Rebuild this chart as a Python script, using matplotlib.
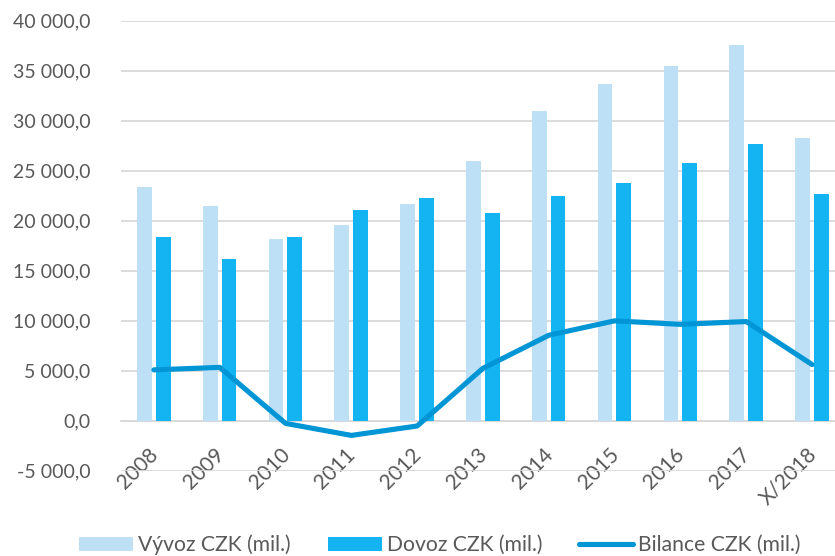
import numpy as np
import matplotlib.pyplot as plt
import matplotlib.transforms as mtransforms
from matplotlib.ticker import FuncFormatter

plt.rcParams['font.family'] = ['Lato', 'DejaVu Sans']

years = ['2008', '2009', '2010', '2011', '2012', '2013', '2014', '2015', '2016', '2017', 'X/2018']
vyvoz = [23400, 21450, 18120, 19550, 21700, 25960, 30960, 33700, 35430, 37570, 28230]
dovoz = [18320, 16120, 18390, 21020, 22230, 20720, 22420, 23720, 25800, 27660, 22620]
bilance = [5080, 5330, -270, -1470, -530, 5240, 8540, 9980, 9630, 9910, 5610]

c_light = '#BDE0F6'
c_dark = '#14B4F2'
c_line = '#0096D6'
c_text = '#595959'
c_grid = '#D9D9D9'

def fmt(v, pos):
    s = '{:,.1f}'.format(v).replace(',', ' ').replace('.', ',')
    return s

fig = plt.figure(figsize=(8.35, 5.56), dpi=100)
ax = fig.add_axes([121 / 835, 0.1534, 724 / 835, 0.8097])

x = np.arange(len(years))
w = 0.225
b1 = ax.bar(x - 0.145, vyvoz, w, color=c_light, zorder=2, label='Vývoz CZK (mil.)')
b2 = ax.bar(x + 0.14, dovoz, w, color=c_dark, zorder=2, label='Dovoz CZK (mil.)')
l1, = ax.plot(x, bilance, color=c_line, lw=3.7, zorder=3, solid_capstyle='round',
              label='Bilance CZK (mil.)')

ax.set_xlim(-0.5, len(years) - 0.5)
ax.set_ylim(-5000, 40000)
ax.set_yticks(np.arange(-5000, 40001, 5000))
ax.yaxis.set_major_formatter(FuncFormatter(fmt))
ax.grid(axis='y', color=c_grid, lw=1.3, zorder=0)
ax.set_axisbelow(True)

for s in ['top', 'right', 'left']:
    ax.spines[s].set_visible(False)
ax.spines['bottom'].set_position(('data', 0))
ax.spines['bottom'].set_color(c_grid)
ax.spines['bottom'].set_linewidth(1.3)
ax.spines['bottom'].set_zorder(0)

ax.set_xticks(x)
ax.set_xticklabels(years, rotation=45, ha='right', va='top', rotation_mode='anchor')
ax.tick_params(axis='x', length=0, pad=17, labelsize=15, labelcolor=c_text)
ax.tick_params(axis='y', length=0, pad=22, labelsize=14, labelcolor=c_text)
shift = mtransforms.ScaledTranslation(-6 / 100, 0, fig.dpi_scale_trans)
for lab in ax.get_xticklabels():
    lab.set_transform(lab.get_transform() + shift)

fig.legend(handles=[b1, b2, l1], loc='center', bbox_to_anchor=(440 / 835, 11 / 556),
           ncol=3, frameon=False, fontsize=15.2, labelcolor=c_text,
           handlelength=2.55, handleheight=0.68, handletextpad=0.25, columnspacing=1.75)

fig.savefig('out.png', dpi=100)
